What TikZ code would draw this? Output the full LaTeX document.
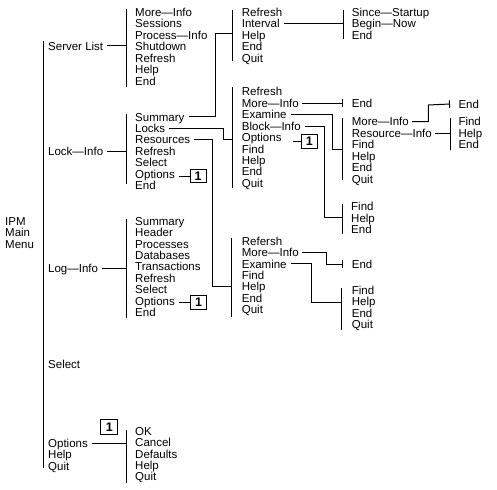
\documentclass[tikz,border=0pt]{standalone}
\usepackage{fontspec}
\setmainfont{Liberation Sans}
\usetikzlibrary{arrows.meta}
\begin{document}
\begin{tikzpicture}[x=1pt,y=-1pt,
  it/.style={anchor=west,inner sep=0pt,font=\fontsize{11.5}{13}\selectfont,text height=8.2pt,text depth=0pt},
  ln/.style={line width=1pt,draw=black},
  barend/.style={-{Bar[width=7.5pt,line width=1pt]}},
  onebox/.style={draw,line width=1.2pt,minimum width=16pt,minimum height=13.5pt,inner sep=0pt,font=\bfseries\fontsize{12.5}{13}\selectfont}]
\useasboundingbox (0,0) rectangle (497,489);
% left title
\node[it] (ipm) at (5,221) {IPM};
\node[it] (mainw) at (5,232.5) {Main};
\node[it] (menu) at (5,244) {Menu};
% top level
\node[it] (sl) at (48,46) {Server List};
\node[it] (li) at (48,151.5) {Lock—Info};
\node[it] (lg) at (48,268) {Log—Info};
\node[it] (sel) at (48,364.5) {Select};
\node[it] (opt) at (48,443) {Options};
\node[it] (hlp) at (48,454.5) {Help};
\node[it] (qt) at (48,466) {Quit};
\draw[ln] (43,41.5) -- (43,468);
% bracket x coordinates
\coordinate (bxA) at (126.7,0);
\coordinate (bxB) at (232.3,0);
\coordinate (bxC) at (343,0);
\coordinate (bxD) at (450,0);
% Server List submenu
\node[it] (a1) at (135,12.3) {More—Info};
\node[it] (a2) at (135,23.75) {Sessions};
\node[it] (a3) at (135,35.2) {Process—Info};
\node[it] (a4) at (135,46.65) {Shutdown};
\node[it] (a5) at (135,58.1) {Refresh};
\node[it] (a6) at (135,69.55) {Help};
\node[it] (a7) at (135,81) {End};
\draw[ln] (126.7,9.3) -- (126.7,87.3);
\draw[ln] ([xshift=4pt]sl.east) -- (sl.east -| bxA);
% Lock-Info submenu
\node[it] (b1) at (135,117) {Summary};
\node[it] (b2) at (135,128.45) {Locks};
\node[it] (b3) at (135,139.9) {Resources};
\node[it] (b4) at (135,151.35) {Refresh};
\node[it] (b5) at (135,162.8) {Select};
\node[it] (b6) at (135,174.25) {Options};
\node[it] (b7) at (135,185.7) {End};
\draw[ln] (126.7,114.3) -- (126.7,183.5);
\draw[ln] ([xshift=4pt]li.east) -- (li.east -| bxA);
\node[onebox] (box1) at (198.2,176) {1};
\draw[ln] ([xshift=3.5pt]b6.east |- box1.west) -- (box1.west);
% Log-Info submenu
\node[it] (c1) at (135,221) {Summary};
\node[it] (c2) at (135,232.45) {Header};
\node[it] (c3) at (135,243.9) {Processes};
\node[it] (c4) at (135,255.35) {Databases};
\node[it] (c5) at (135,266.8) {Transactions};
\node[it] (c6) at (135,278.25) {Refresh};
\node[it] (c7) at (135,289.7) {Select};
\node[it] (c8) at (135,301.15) {Options};
\node[it] (c9) at (135,312.6) {End};
\draw[ln] (126.7,219.3) -- (126.7,318.3);
\draw[ln] ([xshift=4pt]lg.east) -- (lg.east -| bxA);
\node[onebox] (box2) at (198.5,302.5) {1};
\draw[ln] ([xshift=3.5pt]c8.east |- box2.west) -- (box2.west);
% Options submenu
\node[it] (d1) at (135,431) {OK};
\node[it] (d2) at (135,442.45) {Cancel};
\node[it] (d3) at (135,453.9) {Defaults};
\node[it] (d4) at (135,465.35) {Help};
\node[it] (d5) at (135,476.8) {Quit};
\draw[ln] (126.7,430) -- (126.7,483.3);
\draw[ln] ([xshift=3.5pt]opt.east) -- (opt.east -| bxA);
\node[onebox,minimum height=14.5pt,minimum width=17pt] (box3) at (109.3,427) {1};
% Summary submenu (column 3, first)
\node[it] (e1) at (241.7,12.3) {Refresh};
\node[it] (e2) at (241.7,23.75) {Interval};
\node[it] (e3) at (241.7,35.2) {Help};
\node[it] (e4) at (241.7,46.65) {End};
\node[it] (e5) at (241.7,58.1) {Quit};
\draw[ln] (232.3,10) -- (232.3,61);
\draw[ln] ([xshift=4pt]b1.east) -| (215,33.3) -- (232.3,33.3);
% Interval submenu
\node[it] (f1) at (351.7,12.3) {Since—Startup};
\node[it] (f2) at (351.7,23.75) {Begin—Now};
\node[it] (f3) at (351.7,35.2) {End};
\draw[ln] (343.3,10) -- (343.3,39);
\draw[ln] ([xshift=4pt]e2.east) -- (e2.east -| bxC);
% Locks submenu
\node[it] (g1) at (241.7,91.7) {Refresh};
\node[it] (g2) at (241.7,103.15) {More—Info};
\node[it] (g3) at (241.7,114.6) {Examine};
\node[it] (g4) at (241.7,126.05) {Block—Info};
\node[it] (g5) at (241.7,137.5) {Options};
\node[it] (g6) at (241.7,148.95) {Find};
\node[it] (g7) at (241.7,160.4) {Help};
\node[it] (g8) at (241.7,171.85) {End};
\node[it] (g9) at (241.7,183.3) {Quit};
\draw[ln] (232.3,87.3) -- (232.3,188.3);
\draw[ln] ([xshift=4pt]b2.east) -| (223.3,139.3) -- (232.3,139.3);
\node[it] (h0) at (351.7,103.15) {End};
\draw[ln,barend] ([xshift=3pt]g2.east) -- ([xshift=-9pt]h0.west);
\node[onebox,minimum width=15.5pt,minimum height=14pt] (box4) at (309.4,141.5) {1};
\draw[ln] ([xshift=-8.4pt]box4.west) -- (box4.west);
% Examine submenu (from Locks)
\node[it] (i1) at (351.7,121.7) {More—Info};
\node[it] (i2) at (351.7,133.15) {Resource—Info};
\node[it] (i3) at (351.7,144.6) {Find};
\node[it] (i4) at (351.7,156.05) {Help};
\node[it] (i5) at (351.7,167.5) {End};
\node[it] (i6) at (351.7,178.95) {Quit};
\draw[ln] (342.7,117.7) -- (342.7,180);
\draw[ln] ([xshift=4pt]g3.east) -| (332.3,150) -- (342.7,150);
% Block-Info submenu
\node[it] (j1) at (351,206.7) {Find};
\node[it] (j2) at (351,218.15) {Help};
\node[it] (j3) at (351,229.6) {End};
\draw[ln] (342.3,204) -- (342.3,234);
\draw[ln] ([xshift=4pt]g4.east) -| (324,217.5) -- (342.3,217.5);
% column 4
\node[it] (k0) at (458.3,104) {End};
\draw[ln,barend] ([xshift=3pt]i1.east) -| (428.3,105) -- ([xshift=-8.3pt]k0.west);
\node[it] (l1) at (458.3,121.7) {Find};
\node[it] (l2) at (458.3,133.15) {Help};
\node[it] (l3) at (458.3,144.6) {End};
\draw[ln] (450,118.3) -- (450,150);
\draw[ln] ([xshift=3pt]i2.east) -- (i2.east -| bxD);
% Resources submenu
\node[it] (m1) at (241.7,241) {Refersh};
\node[it] (m2) at (241.7,252.45) {More—Info};
\node[it] (m3) at (241.7,263.9) {Examine};
\node[it] (m4) at (241.7,275.35) {Find};
\node[it] (m5) at (241.7,286.8) {Help};
\node[it] (m6) at (241.7,298.25) {End};
\node[it] (m7) at (241.7,309.7) {Quit};
\draw[ln] (231.7,238.3) -- (231.7,316.7);
\draw[ln] ([xshift=4pt]b3.east) -| (212.3,286.7) -- (231.7,286.7);
\node[it] (n0) at (351.7,264) {End};
\draw[ln,barend] ([xshift=3pt]m2.east) -| (326.7,264) -- ([xshift=-9pt]n0.west);
\node[it] (o1) at (351.7,290) {Find};
\node[it] (o2) at (351.7,301.45) {Help};
\node[it] (o3) at (351.7,312.9) {End};
\node[it] (o4) at (351.7,324.35) {Quit};
\draw[ln] (341.7,287.7) -- (341.7,330);
\draw[ln] ([xshift=4pt]m3.east) -| (311,302.7) -- (341.7,302.7);
\end{tikzpicture}
\end{document}
